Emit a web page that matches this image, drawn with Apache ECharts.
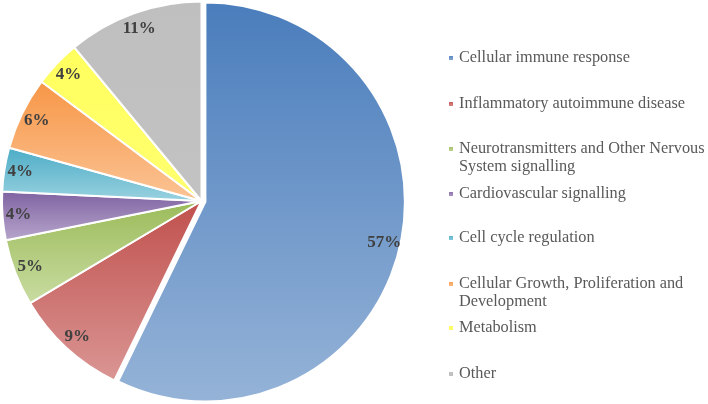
<!DOCTYPE html>
<html><head><meta charset="utf-8">
<script src="https://cdn.jsdelivr.net/npm/echarts@6/dist/echarts.min.js"></script>
<style>html,body{margin:0;padding:0;background:#fff}#c{width:708px;height:404px}</style>
</head><body><div id="c"></div>
<script>
const categories = [
  'Cellular immune response',
  'Inflammatory autoimmune disease',
  'Neurotransmitters and Other Nervous System signalling',
  'Cardiovascular signalling',
  'Cell cycle regulation',
  'Cellular Growth, Proliferation and Development',
  'Metabolism',
  'Other'
];
// slice shares (labels show them rounded)
const values = [57.2, 9.25, 5.4, 3.9, 3.55, 5.9, 3.8, 11.0];
const legendLines = [
  'Cellular immune response',
  'Inflammatory autoimmune disease',
  'Neurotransmitters and Other Nervous\nSystem signalling',
  'Cardiovascular signalling',
  'Cell cycle regulation',
  'Cellular Growth, Proliferation and\nDevelopment',
  'Metabolism',
  'Other'
];

const topColors = ['#4A7DBC', '#C0504D', '#9BBB59', '#7F62A1', '#4BACC6', '#F79646', '#FFFF5E', '#BFBFBF'];
const bottomColors = ['#95B3D7', '#DA9694', '#C9DCA2', '#B7A6CC', '#9AD2E0', '#FBC496', '#FFFF70', '#C2C2C2'];
const legendCenters = [58, 104, 149, 194, 238, 284, 328, 374];

function grad(i) {
  return new echarts.graphic.LinearGradient(0, 0, 0, 1, [
    {offset: 0, color: topColors[i]}, {offset: 1, color: bottomColors[i]}
  ]);
}
const CX = 201.5, CY = 201, R = 199.5;
const font = '"Liberation Serif", "Times New Roman", serif';

const pieData = categories.map((n, i) => ({
  name: n, value: values[i], selected: i === 0,
  itemStyle: {color: grad(i)}
}));
const labelData = categories.map((n, i) => ({name: n, value: values[i], selected: i === 0}));

const legends = categories.map((n, i) => {
  const multi = legendLines[i].indexOf('\n') >= 0;
  return {
    left: 447,
    top: legendCenters[i] - (multi ? 27 : 9),
    orient: 'vertical',
    padding: 0,
    icon: 'rect',
    itemWidth: 6, itemHeight: 6,
    selectedMode: false,
    data: [n],
    formatter: () => (multi ? ' \n' : '') + legendLines[i],
    textStyle: {fontFamily: font, fontSize: 16.3, color: '#595959', lineHeight: 18}
  };
});

const chart = echarts.init(document.getElementById('c'), null, {renderer: 'canvas'});
chart.setOption({
  animation: false,
  backgroundColor: '#fff',
  legend: legends,
  series: [
    {
      type: 'pie',
      center: [CX, CY], radius: [0, R],
      startAngle: 90, clockwise: true,
      selectedMode: 'single', selectedOffset: 4,
      itemStyle: {borderColor: '#fff', borderWidth: 2},
      label: {show: false}, labelLine: {show: false},
      emphasis: {disabled: true},
      data: pieData
    },
    {
      type: 'pie',
      center: [CX, CY], radius: [R - 38, R],
      startAngle: 90, clockwise: true,
      selectedMode: 'single', selectedOffset: 4,
      silent: true,
      itemStyle: {color: 'rgba(0,0,0,0)', borderWidth: 0},
      label: {show: true, position: 'inside',
        formatter: p => Math.round(p.value) + '%',
        fontFamily: font, fontSize: 17, fontWeight: 'bold', color: '#404040'},
      labelLine: {show: false},
      emphasis: {disabled: true},
      data: labelData
    }
  ]
});
</script></body></html>
